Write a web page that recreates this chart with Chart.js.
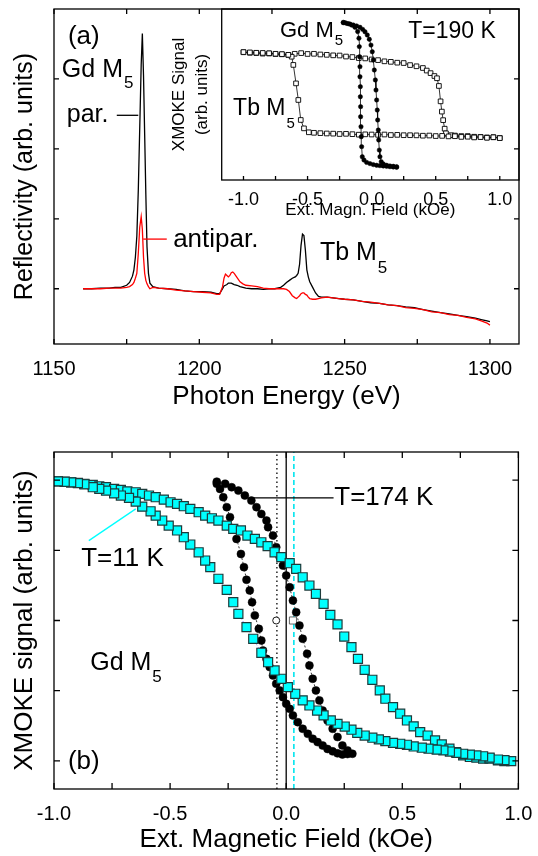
<!DOCTYPE html>
<html>
<head>
<meta charset="utf-8">
<script src="https://cdn.jsdelivr.net/npm/chart.js@4.4.1/dist/chart.umd.min.js"></script>
<style>
body{margin:0;background:#fff;width:538px;height:856px;overflow:hidden;position:relative}
.box{position:absolute}
</style>
</head>
<body>
<div class="box" style="left:0;top:0;width:538px;height:420px"><canvas id="topChart"></canvas></div>
<div class="box" style="left:160px;top:0;width:370px;height:225px"><canvas id="insetChart"></canvas></div>
<div class="box" style="left:0;top:420px;width:538px;height:436px"><canvas id="bottomChart"></canvas></div>
<script>
const FONT="'Liberation Sans', Arial, Helvetica, sans-serif"
Chart.defaults.font.family=FONT
Chart.defaults.color="#000"
Chart.defaults.animation=false

// (a) reflectivity, parallel / antiparallel
const energy=[1160,1163,1166,1169,1171,1173,1175,1176,1177,1177.5,1178,1178.5,1179,1179.5,1180,1180.4,1180.8,1181.2,1181.6,1182,1182.5,1183,1184,1186,1189,1192,1195,1198,1201,1204,1206,1207,1208,1208.5,1209,1209.5,1210,1210.5,1211,1211.5,1212,1213,1214,1215,1216,1218,1220,1222,1224,1226,1228,1229,1230,1231,1232,1233,1233.5,1234,1234.5,1235,1235.5,1236,1236.5,1237,1237.5,1238,1239,1240,1241,1242,1244,1246,1248,1250,1253,1256,1259,1262,1265,1268,1271,1274,1277,1280,1283,1286,1289,1292,1295,1297,1299,1300]
const reflPar=[0,0,0.01,0.01,0.02,0.02,0.05,0.09,0.18,0.27,0.45,0.75,1.4,2.3,3.2,3.65,3.05,2.2,1.35,0.6,0.22,0.08,0.03,0.01,0,-0.01,-0.03,-0.04,-0.04,-0.05,-0.07,-0.07,0,0.04,0.05,0.06,0.08,0.08,0.08,0.07,0.06,0.05,0.03,0.02,0.01,0,0,-0.01,0,0,0.02,0.05,0.09,0.12,0.15,0.17,0.19,0.22,0.35,0.62,0.78,0.76,0.55,0.27,0.17,0.1,0.02,-0.06,-0.11,-0.12,-0.12,-0.13,-0.14,-0.15,-0.16,-0.18,-0.2,-0.21,-0.23,-0.24,-0.26,-0.27,-0.3,-0.32,-0.34,-0.36,-0.38,-0.4,-0.42,-0.44,-0.46,-0.47]
const reflAntipar=[0,0,0,0.01,0.01,0.01,0.02,0.03,0.06,0.09,0.15,0.22,0.5,0.88,1.03,0.85,0.45,0.22,0.12,0.07,0.03,0,0.02,0.01,0,-0.02,-0.03,-0.04,-0.05,-0.06,-0.08,-0.08,0.03,0.15,0.21,0.19,0.17,0.19,0.23,0.24,0.22,0.16,0.1,0.07,0.05,0.04,0.03,0.01,0,0,0,0,-0.01,-0.04,-0.1,-0.13,-0.14,-0.12,-0.1,-0.07,-0.06,-0.06,-0.08,-0.09,-0.12,-0.14,-0.15,-0.15,-0.14,-0.13,-0.12,-0.13,-0.14,-0.15,-0.16,-0.18,-0.19,-0.21,-0.23,-0.24,-0.27,-0.28,-0.3,-0.33,-0.34,-0.37,-0.38,-0.41,-0.43,-0.46,-0.49,-0.52]
const energyTicks=[1150,1175,1200,1225,1250,1275,1300]
const reflTicks=[0,1,2,3]

// inset: T=190 K loops
const tbField=[-1,-0.95,-0.9,-0.85,-0.8,-0.75,-0.7,-0.65,-0.6,-0.55,-0.5,-0.45,-0.4,-0.35,-0.3,-0.25,-0.2,-0.15,-0.1,-0.05,0,0.05,0.1,0.15,0.2,0.25,0.3,0.35,0.4,0.43,0.46,0.49,0.51,0.525,0.538,0.548,0.558,0.57,0.58,0.62,0.65,0.7,0.75,0.8,0.85,0.9,0.95,1,
1,0.95,0.9,0.85,0.8,0.75,0.7,0.65,0.6,0.55,0.5,0.45,0.4,0.35,0.3,0.25,0.2,0.15,0.1,0.05,0,-0.05,-0.1,-0.15,-0.2,-0.25,-0.3,-0.35,-0.4,-0.45,-0.49,-0.528,-0.553,-0.572,-0.59,-0.611,-0.624,-0.65,-0.7,-0.75,-0.8,-0.85,-0.9,-0.95,-1]
const tbSignal=[0.747,0.744,0.743,0.739,0.74,0.736,0.735,0.731,0.738,0.742,0.737,0.738,0.734,0.732,0.729,0.728,0.722,0.719,0.713,0.711,0.705,0.701,0.694,0.691,0.686,0.684,0.672,0.665,0.655,0.64,0.625,0.608,0.595,0.55,0.46,0.4,0.35,0.3,0.273,0.262,0.26,0.257,0.257,0.253,0.252,0.249,0.25,0.246,
0.245,0.25,0.247,0.251,0.249,0.253,0.252,0.256,0.255,0.258,0.257,0.26,0.259,0.261,0.262,0.262,0.264,0.263,0.266,0.264,0.266,0.267,0.265,0.268,0.27,0.269,0.271,0.272,0.274,0.276,0.279,0.302,0.351,0.468,0.565,0.673,0.721,0.732,0.736,0.738,0.741,0.743,0.744,0.746,0.748]
const gdField190=[-0.221,-0.195,-0.169,-0.143,-0.117,-0.091,-0.07,-0.052,-0.034,-0.018,-0.005,0.005,0.013,0.021,0.029,0.034,0.039,0.044,0.047,0.052,0.055,0.06,0.065,0.075,0.091,0.117,0.143,0.169,0.195,
0.195,0.169,0.143,0.117,0.091,0.065,0.039,0.013,-0.013,-0.039,-0.06,-0.073,-0.078,-0.081,-0.083,-0.086,-0.086,-0.088,-0.088,-0.091,-0.091,-0.094,-0.096,-0.099,-0.109,-0.13,-0.156,-0.182,-0.208,-0.221]
const gdSignal190=[0.92,0.916,0.912,0.906,0.901,0.893,0.881,0.867,0.848,0.823,0.789,0.75,0.702,0.643,0.585,0.526,0.468,0.409,0.351,0.292,0.234,0.175,0.136,0.107,0.094,0.086,0.082,0.08,0.078,
0.074,0.076,0.078,0.08,0.082,0.084,0.086,0.09,0.096,0.103,0.117,0.136,0.195,0.253,0.312,0.37,0.429,0.487,0.546,0.604,0.663,0.721,0.78,0.829,0.868,0.893,0.906,0.914,0.92,0.922]
const insetTicks=[-1,-0.75,-0.5,-0.25,0,0.25,0.5,0.75,1]

// (b) Gd M5 loops, T=11 K and T=174 K
const field11=[-0.983,-0.954,-0.926,-0.897,-0.869,-0.833,-0.805,-0.776,-0.741,-0.712,-0.684,-0.648,-0.62,-0.591,-0.562,-0.527,-0.498,-0.47,-0.441,-0.413,-0.377,-0.349,-0.32,-0.292,-0.256,-0.228,-0.195,-0.167,-0.135,-0.107,-0.08,-0.05,-0.021,0.015,0.043,0.071,0.1,0.128,0.161,0.19,0.221,0.25,0.281,0.309,0.338,0.371,0.403,0.427,0.46,0.491,0.52,0.549,0.577,0.609,0.641,0.67,0.703,0.731,0.762,0.791,0.819,0.848,0.876,0.912,0.94,0.969,
0.94,0.912,0.876,0.848,0.819,0.791,0.762,0.733,0.705,0.677,0.648,0.613,0.584,0.549,0.52,0.491,0.46,0.427,0.399,0.371,0.338,0.306,0.281,0.252,0.221,0.192,0.161,0.133,0.1,0.071,0.039,0.007,-0.021,-0.05,-0.078,-0.107,-0.142,-0.171,-0.206,-0.228,-0.256,-0.292,-0.327,-0.349,-0.377,-0.413,-0.441,-0.47,-0.506,-0.534,-0.562,-0.584,-0.62,-0.648,-0.677,-0.712,-0.741,-0.776,-0.805,-0.833,-0.869,-0.897,-0.926,-0.954,-0.983]
const signal11=[0.991,0.989,0.984,0.98,0.973,0.966,0.956,0.949,0.937,0.93,0.92,0.913,0.902,0.89,0.878,0.861,0.842,0.831,0.814,0.795,0.771,0.747,0.728,0.712,0.676,0.653,0.641,0.605,0.581,0.557,0.53,0.486,0.451,0.408,0.368,0.308,0.249,0.19,0.119,0.04,-0.028,-0.114,-0.19,-0.273,-0.351,-0.422,-0.498,-0.557,-0.617,-0.664,-0.712,-0.754,-0.795,-0.819,-0.854,-0.883,-0.913,-0.937,-0.961,-0.972,-0.977,-0.984,-0.984,-0.996,-1.001,-1.001,
-0.994,-0.99,-0.977,-0.967,-0.961,-0.955,-0.949,-0.942,-0.933,-0.925,-0.92,-0.913,-0.906,-0.897,-0.885,-0.878,-0.871,-0.859,-0.847,-0.835,-0.819,-0.8,-0.778,-0.755,-0.736,-0.712,-0.676,-0.641,-0.605,-0.569,-0.522,-0.475,-0.415,-0.356,-0.297,-0.23,-0.13,-0.047,0.047,0.13,0.218,0.297,0.38,0.427,0.486,0.541,0.593,0.641,0.676,0.712,0.747,0.778,0.811,0.847,0.873,0.89,0.905,0.925,0.937,0.949,0.97,0.978,0.984,0.988,0.991]
const field174=[-0.299,-0.263,-0.235,-0.206,-0.178,-0.15,-0.128,-0.107,-0.085,-0.078,-0.057,-0.043,-0.028,-0.014,0,0.015,0.029,0.043,0.057,0.071,0.09,0.1,0.114,0.128,0.143,0.157,0.178,0.2,0.221,0.242,0.264,0.285,
0.264,0.242,0.221,0.2,0.178,0.157,0.135,0.114,0.093,0.071,0.05,0.029,0.015,0,-0.014,-0.028,-0.043,-0.057,-0.071,-0.085,-0.1,-0.107,-0.118,-0.135,-0.147,-0.157,-0.171,-0.182,-0.195,-0.214,-0.228,-0.242,-0.256,-0.271,-0.285,-0.299]
const signal174=[0.989,0.973,0.949,0.925,0.89,0.854,0.807,0.759,0.712,0.664,0.605,0.522,0.451,0.391,0.32,0.237,0.142,0.059,-0.036,-0.13,-0.237,-0.32,-0.415,-0.498,-0.569,-0.641,-0.712,-0.771,-0.83,-0.89,-0.925,-0.949,
-0.951,-0.954,-0.946,-0.932,-0.915,-0.89,-0.866,-0.842,-0.807,-0.771,-0.724,-0.676,-0.629,-0.593,-0.546,-0.498,-0.451,-0.391,-0.332,-0.273,-0.214,-0.142,-0.059,0.036,0.13,0.214,0.29,0.38,0.474,0.581,0.653,0.736,0.807,0.878,0.937,0.973]
const markerFields=[-0.04,0,0.033]
const openCircle=[-0.043,0]
const openSquare=[0.029,0]
const signalRange=[-1.2,1.2]
const fieldTicks=[-1,-0.75,-0.5,-0.25,0,0.25,0.5,0.75,1]
const signalTicks=[-1,-0.5,0,0.5,1]

function pts(xs,ys){return xs.map((x,i)=>({x:x,y:ys[i]}))}
function vline(x){return [{x:x,y:signalRange[0]},{x:x,y:signalRange[1]}]}

// box, inward ticks, labels and pointer lines
const frame={
id:"frame",
afterDraw(chart,args,o){
const ctx=chart.ctx,a=chart.chartArea,sx=chart.scales.x,sy=chart.scales.y
ctx.save()
ctx.strokeStyle="#000";ctx.lineWidth=1.3
ctx.strokeRect(a.left,a.top,a.right-a.left,a.bottom-a.top)
ctx.beginPath()
;(o.xTicks||[]).forEach(v=>{
const p=sx.getPixelForValue(v)
ctx.moveTo(p,a.bottom);ctx.lineTo(p,a.bottom-o.len)
if(o.top){ctx.moveTo(p,a.top);ctx.lineTo(p,a.top+o.len)}
})
;(o.yTicks||[]).forEach(v=>{
const p=sy.getPixelForValue(v)
ctx.moveTo(a.left,p);ctx.lineTo(a.left+o.len,p)
ctx.moveTo(a.right,p);ctx.lineTo(a.right-o.len,p)
})
ctx.stroke()
;(o.leaders||[]).forEach(l=>{
ctx.strokeStyle=l.color;ctx.lineWidth=1.3
ctx.beginPath()
ctx.moveTo(sx.getPixelForValue(l.x1),sy.getPixelForValue(l.y1))
ctx.lineTo(sx.getPixelForValue(l.x2),sy.getPixelForValue(l.y2))
ctx.stroke()
})
ctx.textBaseline="middle";ctx.textAlign="left";ctx.fillStyle="#000"
;(o.labels||[]).forEach(l=>{
const x=sx.getPixelForValue(l.x),y=sy.getPixelForValue(l.y)
ctx.font=l.size+"px "+FONT
ctx.fillText(l.text,x,y)
if(l.sub){
const w=ctx.measureText(l.text).width
ctx.font=Math.round(l.size*0.66)+"px "+FONT
ctx.fillText(l.sub,x+w+1,y+l.dy)
}
})
ctx.restore()
}
}

new Chart(document.getElementById("topChart"),{
type:"line",
data:{datasets:[
{label:"antipar.",data:pts(energy,reflAntipar),borderColor:"#ff0000",borderWidth:1.3,pointRadius:0},
{label:"par.",data:pts(energy,reflPar),borderColor:"#000",borderWidth:1.3,pointRadius:0}
]},
options:{
responsive:true,maintainAspectRatio:false,
layout:{padding:{left:0,top:9,right:19,bottom:0}},
plugins:{legend:{display:false},tooltip:{enabled:false},
frame:{xTicks:energyTicks,yTicks:reflTicks,top:true,len:5,
labels:[
{text:"(a)",x:1154.8,y:3.6,size:26},
{text:"Gd M",sub:"5",dy:12.5,x:1152.7,y:3.12,size:25},
{text:"par.",x:1154.4,y:2.48,size:25},
{text:"antipar.",x:1191,y:0.7,size:26},
{text:"Tb M",sub:"5",dy:15,x:1241.5,y:0.51,size:25}
],
leaders:[
{x1:1171.6,y1:2.48,x2:1179,y2:2.48,color:"#000"},
{x1:1180.7,y1:0.71,x2:1188.8,y2:0.71,color:"#ff0000"}
]}},
scales:{
x:{type:"linear",min:1150,max:1310,grid:{display:false},border:{display:false},
ticks:{stepSize:50,includeBounds:false,padding:5.7,font:{size:20},maxRotation:0,callback:v=>String(v)},
title:{display:true,text:"Photon Energy (eV)",font:{size:26},padding:{top:0,bottom:7.7}},
afterFit(s){s.height=76}},
y:{min:-0.79,max:4,grid:{display:false},border:{display:false},ticks:{display:false},
title:{display:true,text:"Reflectivity (arb. units)",font:{size:25},padding:{top:10,bottom:0}},
afterFit(s){s.width=54}}
}
},
plugins:[frame]
})

new Chart(document.getElementById("insetChart"),{
type:"line",
data:{datasets:[
{label:"Gd M5",data:pts(gdField190,gdSignal190),borderColor:"#000",borderWidth:0.8,
pointStyle:"circle",pointRadius:2.2,pointBackgroundColor:"#000",pointBorderColor:"#000",pointBorderWidth:0.5},
{label:"Tb M5",data:pts(tbField,tbSignal),borderColor:"#000",borderWidth:0.8,
pointStyle:"rect",pointRadius:3.3,pointBackgroundColor:"#fff",pointBorderColor:"#000",pointBorderWidth:0.9}
]},
options:{
responsive:true,maintainAspectRatio:false,
layout:{padding:{left:0,top:9,right:11,bottom:0}},
plugins:{legend:{display:false},tooltip:{enabled:false},
frame:{xTicks:insetTicks,yTicks:[],top:false,len:4,
labels:[
{text:"Gd M",sub:"5",dy:10,x:-0.715,y:0.873,size:22},
{text:"T=190 K",x:0.285,y:0.867,size:23},
{text:"Tb M",sub:"5",dy:16,x:-1.081,y:0.42,size:23}
]}},
scales:{
x:{type:"linear",min:-1.17,max:1.15,grid:{display:false},border:{display:false},
ticks:{stepSize:0.5,includeBounds:false,padding:0.9,font:{size:18},maxRotation:0,callback:v=>v.toFixed(1)},
title:{display:true,text:"Ext. Magn. Field (kOe)",font:{size:17},padding:{top:0,bottom:4.8}},
afterFit(s){s.height=45}},
y:{min:0,max:1,grid:{display:false},border:{display:false},ticks:{display:false},
title:{display:true,text:["XMOKE Signal","(arb. units)"],font:{size:17,lineHeight:1.38},padding:{top:7.25,bottom:0}},
afterFit(s){s.width=61.7}}
}
},
plugins:[frame]
})

new Chart(document.getElementById("bottomChart"),{
type:"line",
data:{datasets:[
{label:"T=11 K",data:pts(field11,signal11),borderColor:"rgba(40,60,255,0.8)",borderWidth:0.8,borderDash:[1,2],
pointStyle:"rect",pointRadius:6.4,pointBackgroundColor:"#00ffff",pointBorderColor:"#1d3b3b",pointBorderWidth:1.2},
{label:"T=174 K",data:pts(field174,signal174),borderColor:"#000",borderWidth:0.8,borderDash:[2,2],
pointStyle:"circle",pointRadius:4,pointBackgroundColor:"#000",pointBorderColor:"#000",pointBorderWidth:0.5},
{label:"open circle",data:[{x:openCircle[0],y:openCircle[1]}],showLine:false,
pointStyle:"circle",pointRadius:3.5,pointBackgroundColor:"#fff",pointBorderColor:"#000",pointBorderWidth:0.9},
{label:"open square",data:[{x:openSquare[0],y:openSquare[1]}],showLine:false,
pointStyle:"rect",pointRadius:5,pointBackgroundColor:"#fff",pointBorderColor:"#555",pointBorderWidth:0.9},
{label:"shift 174 K",data:vline(markerFields[0]),borderColor:"#000",borderWidth:1.3,borderDash:[1.5,3],pointRadius:0},
{label:"zero",data:vline(markerFields[1]),borderColor:"#000",borderWidth:1.3,pointRadius:0},
{label:"shift 11 K",data:vline(markerFields[2]),borderColor:"#00e5ee",borderWidth:1.6,borderDash:[5,3],pointRadius:0}
]},
options:{
responsive:true,maintainAspectRatio:false,
layout:{padding:{left:0,top:32,right:16,bottom:0}},
plugins:{legend:{display:false},tooltip:{enabled:false},
frame:{xTicks:fieldTicks,yTicks:signalTicks,top:true,len:6,
labels:[
{text:"T=174 K",x:0.207,y:0.875,size:26},
{text:"T=11 K",x:-0.883,y:0.439,size:26},
{text:"Gd M",sub:"5",dy:14,x:-0.844,y:-0.304,size:25},
{text:"(b)",x:-0.94,y:-1.005,size:26}
],
leaders:[
{x1:-0.142,y1:0.874,x2:0.204,y2:0.874,color:"#000"},
{x1:-0.85,y1:0.569,x2:-0.648,y2:0.795,color:"#00ffff"}
]}},
scales:{
x:{type:"linear",min:-1,max:1,grid:{display:false},border:{display:false},
ticks:{stepSize:0.5,padding:5.7,font:{size:20},maxRotation:0,callback:v=>v.toFixed(1)},
title:{display:true,text:"Ext. Magnetic Field (kOe)",font:{size:26},padding:{top:0,bottom:0.4}},
afterFit(s){s.height=67}},
y:{min:signalRange[0],max:signalRange[1],grid:{display:false},border:{display:false},ticks:{display:false},
title:{display:true,text:"XMOKE signal (arb. units)",font:{size:26},padding:{top:9.4,bottom:0}},
afterFit(s){s.width=54}}
}
},
plugins:[frame]
})
</script>
</body>
</html>
